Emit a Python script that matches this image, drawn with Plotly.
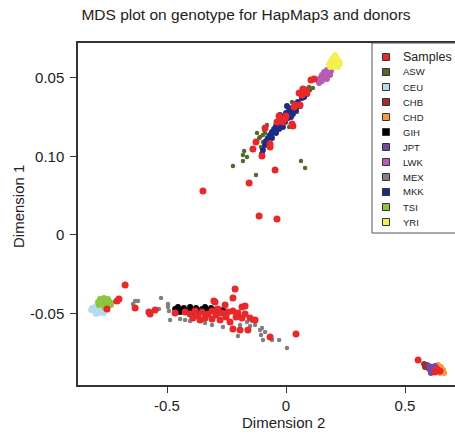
import plotly.graph_objects as go

# ---- text ----
title_text = "MDS plot on genotype for HapMap3 and donors"
x_label = "Dimension 2"
y_label = "Dimension 1"

x_tick_vals = [-0.5, 0, 0.5]
x_tick_text = ["-0.5", "0", "0.5"]
y_tick_vals = [-0.05, 0, 0.05, 0.10]
y_tick_text = ["-0.05", "0", "0.10", "0.05"]

# ---- reference populations (Dimension 2, Dimension 1) ----
asw_x = [0.139, 0.097, 0.101, 0.025, 0.017, 0.004, 0.013, -0.080, -0.092, -0.097, -0.113, -0.122, -0.105,
         -0.176, -0.181, -0.164, -0.181, -0.223, -0.126, 0.063, 0.080, -0.097, -0.109, -0.088, 0.046, 0.113]
asw_y = [0.0967, 0.0941, 0.0922, 0.0846, 0.0801, 0.0814, 0.0687, 0.0700, 0.0668, 0.0636, 0.0617, 0.0649, 0.0560,
         0.0534, 0.0509, 0.0496, 0.0471, 0.0439, 0.0382, 0.0471, 0.0426, 0.0591, 0.0623, 0.0649, 0.0782, 0.0935]

ceu_x = [-0.815, -0.798, -0.782, -0.807, -0.790, -0.773, -0.756, -0.798, -0.782, -0.765, -0.819]
ceu_y = [-0.0464, -0.0452, -0.0458, -0.0483, -0.0477, -0.0477, -0.0477, -0.0502, -0.0496, -0.0496, -0.0477]

chb_x = [0.580, 0.592, 0.584, 0.597]
chb_y = [-0.0820, -0.0827, -0.0840, -0.0846]

chd_x = [0.651, 0.660, 0.647, 0.664, 0.639]
chd_y = [-0.0840, -0.0859, -0.0878, -0.0878, -0.0827]

gih_x = [-0.466, -0.454, -0.441, -0.429, -0.416, -0.403, -0.391, -0.378, -0.366, -0.353, -0.340,
         -0.328, -0.315, -0.303, -0.290, -0.277, -0.265, -0.252, -0.445, -0.395, -0.345]
gih_y = [-0.0471, -0.0458, -0.0477, -0.0464, -0.0483, -0.0458, -0.0477, -0.0464, -0.0483, -0.0471, -0.0458,
         -0.0477, -0.0464, -0.0483, -0.0471, -0.0490, -0.0477, -0.0490, -0.0490, -0.0496, -0.0490]

jpt_x = [0.601, 0.613, 0.626, 0.605, 0.618, 0.630, 0.609, 0.622]
jpt_y = [-0.0833, -0.0840, -0.0833, -0.0859, -0.0859, -0.0852, -0.0878, -0.0871]

lwk_x = [0.185, 0.172, 0.189, 0.164, 0.181, 0.151, 0.168, 0.185, 0.143, 0.160, 0.134, 0.151, 0.172, 0.139, 0.160]
lwk_y = [0.1062, 0.1049, 0.1043, 0.1030, 0.1030, 0.1018, 0.1011, 0.1018, 0.0998, 0.0998, 0.0986, 0.0979,
         0.0992, 0.0967, 0.1037]

mex_x = [-0.718, -0.634, -0.622, -0.643, -0.525, -0.534, -0.546, -0.496, -0.492, -0.496, -0.487, -0.445,
         -0.424, -0.403, -0.311, -0.265, -0.193, -0.164, -0.143, -0.130, -0.101, -0.105, -0.097, -0.059,
         -0.029, 0.004, -0.202, -0.340, -0.109, -0.088, -0.151]
mex_y = [-0.0426, -0.0420, -0.0420, -0.0439, -0.0401, -0.0471, -0.0477, -0.0458, -0.0483, -0.0439, -0.0541,
         -0.0534, -0.0541, -0.0547, -0.0572, -0.0585, -0.0572, -0.0553, -0.0547, -0.0572, -0.0591, -0.0636,
         -0.0668, -0.0668, -0.0668, -0.0719, -0.0642, -0.0560, -0.0604, -0.0617, -0.0579]

mkk_x = [0.067, 0.050, 0.059, 0.038, 0.025, 0.042, 0.013, 0.029, 0.000, -0.008, 0.008, -0.021, -0.004,
         -0.034, -0.017, -0.042, -0.029, -0.050, -0.059, -0.042, -0.067, -0.076, -0.059, -0.084, -0.088,
         -0.097, -0.101, 0.017, -0.025, 0.004, 0.076, 0.088,
         -0.013, -0.046, -0.038, -0.063, 0.021, -0.004, 0.034]
mkk_y = [0.0871, 0.0846, 0.0820, 0.0833, 0.0808, 0.0795, 0.0789, 0.0770, 0.0776, 0.0750, 0.0744, 0.0738,
         0.0719, 0.0719, 0.0700, 0.0693, 0.0674, 0.0674, 0.0655, 0.0649, 0.0636, 0.0617, 0.0617, 0.0598,
         0.0572, 0.0541, 0.0515, 0.0763, 0.0763, 0.0820, 0.0878, 0.0897,
         0.0687, 0.0661, 0.0712, 0.0630, 0.0750, 0.0757, 0.0801]

tsi_x = [-0.782, -0.765, -0.748, -0.790, -0.773, -0.756, -0.739, -0.786, -0.769, -0.752, -0.735, -0.761]
tsi_y = [-0.0407, -0.0401, -0.0407, -0.0426, -0.0426, -0.0426, -0.0426, -0.0445, -0.0445, -0.0445,
         -0.0445, -0.0464]

yri_x = [0.206, 0.197, 0.214, 0.189, 0.206, 0.223, 0.181, 0.197, 0.214, 0.227, 0.185, 0.202, 0.218, 0.193, 0.210]
yri_y = [0.1145, 0.1126, 0.1126, 0.1107, 0.1107, 0.1107, 0.1088, 0.1088, 0.1088, 0.1088, 0.1068, 0.1068,
         0.1068, 0.1100, 0.1081]

# ---- donor samples ----
samples_x = [0.118, 0.105, 0.055, 0.067, 0.084, 0.088, 0.071, 0.038, 0.059, 0.034, -0.029, 0.000, -0.017,
             -0.038, -0.013, -0.004, 0.029, 0.025, -0.088, -0.126, -0.139, -0.067, -0.067, -0.101, -0.046,
             -0.155, -0.349, -0.113, -0.038,
             -0.676, -0.702, -0.710, -0.752, -0.634, -0.576, -0.571, -0.550, -0.466, -0.303, -0.214, -0.223,
             -0.256, -0.185, -0.223, -0.223, -0.193, -0.160, -0.067, 0.042, -0.185, -0.210,
             -0.424, -0.403, -0.382, -0.370, -0.353, -0.340, -0.328, -0.311, -0.311, -0.294, -0.277, -0.269,
             -0.252, -0.235, -0.244, -0.286, -0.361, -0.391, -0.202, -0.172, -0.151, -0.130, -0.298, -0.172,
             0.555, 0.634, 0.647, 0.626]
samples_y = [0.0992, 0.0986, 0.0903, 0.0890, 0.0922, 0.0903, 0.0929, 0.0827, 0.0827, 0.0814, 0.0757, 0.0757,
             0.0731, 0.0719, 0.0719, 0.0738, 0.0693, 0.0706, 0.0681, 0.0591, 0.0547, 0.0579, 0.0560, 0.0502,
             0.0413, 0.0331, 0.0280, 0.0121, 0.0102,
             -0.0318, -0.0407, -0.0420, -0.0471, -0.0464, -0.0490, -0.0502, -0.0477, -0.0496, -0.0420, -0.0343,
             -0.0401, -0.0445, -0.0458, -0.0483, -0.0598, -0.0604, -0.0604, -0.0649, -0.0630, -0.0528, -0.0522,
             -0.0490, -0.0502, -0.0483, -0.0515, -0.0490, -0.0528, -0.0502, -0.0483, -0.0534, -0.0509, -0.0541,
             -0.0496, -0.0522, -0.0553, -0.0490, -0.0471, -0.0541, -0.0528, -0.0496, -0.0502, -0.0528, -0.0541,
             -0.0426, -0.0452,
             -0.0795, -0.0852, -0.0865, -0.0871]

legend_names = ["Samples", "ASW", "CEU", "CHB", "CHD", "GIH", "JPT", "LWK", "MEX", "MKK", "TSI", "YRI"]
legend_colors = ["#e8282b", "#55692c", "#b4dcee", "#9b3030", "#f59a3c", "#000000", "#7548a6",
                 "#b75bb6", "#808080", "#1e2a84", "#8cc63f", "#f4f050"]

population_series = [
    ("ASW", asw_x, asw_y), ("CEU", ceu_x, ceu_y), ("CHB", chb_x, chb_y), ("CHD", chd_x, chd_y),
    ("GIH", gih_x, gih_y), ("JPT", jpt_x, jpt_y), ("LWK", lwk_x, lwk_y), ("MEX", mex_x, mex_y),
    ("MKK", mkk_x, mkk_y), ("TSI", tsi_x, tsi_y), ("YRI", yri_x, yri_y),
]
color_of = dict(zip(legend_names, legend_colors))
blob_groups = {"CEU", "TSI", "YRI", "LWK", "GIH", "MKK", "JPT", "CHB", "CHD"}

FONT = "Liberation Sans, Arial, sans-serif"
W, H = 455, 435
ML, MR, MT, MB = 78, 0, 43, 50
plot_w, plot_h = W - ML - MR, H - MT - MB

fig = go.Figure()
for name, xs, ys in population_series:
    fig.add_trace(go.Scatter(
        x=xs, y=ys, mode="markers", name=name, showlegend=False,
        marker=dict(size=6 if name in blob_groups else 4.5, color=color_of[name], line=dict(width=0)),
    ))
fig.add_trace(go.Scatter(
    x=samples_x, y=samples_y, mode="markers", name="Samples", showlegend=False,
    marker=dict(size=7, color=color_of["Samples"], line=dict(width=0)),
))


def px_to_paper_x(px):
    return (px - ML) / plot_w


def px_to_paper_y(py):
    return (H - MB - py) / plot_h


# legend frame
shapes = [dict(type="rect", xref="paper", yref="paper",
               x0=px_to_paper_x(372), x1=px_to_paper_x(462),
               y0=px_to_paper_y(233), y1=1.0,
               line=dict(color="#555555", width=1), fillcolor="white", layer="above")]
annotations = []
for i, (name, col) in enumerate(zip(legend_names, legend_colors)):
    row_y = px_to_paper_y(57 + 15 * i)
    shapes.append(dict(type="rect", xref="paper", yref="paper",
                       xsizemode="pixel", ysizemode="pixel",
                       xanchor=px_to_paper_x(386), yanchor=row_y,
                       x0=-3.5, x1=3.5, y0=-3.5, y1=3.5,
                       fillcolor=col, line=dict(color="#333333", width=1), layer="above"))
    annotations.append(dict(text=name, xref="paper", yref="paper",
                            x=px_to_paper_x(401), y=row_y, xanchor="left", yanchor="middle",
                            showarrow=False,
                            font=dict(family=FONT, size=12.5 if i == 0 else 9.5, color="#222222")))

# axis titles
annotations.append(dict(text=x_label, xref="paper", yref="paper", x=px_to_paper_x(283),
                        y=px_to_paper_y(422), xanchor="center", yanchor="middle", showarrow=False,
                        font=dict(family=FONT, size=15, color="#222222")))
annotations.append(dict(text=y_label, xref="paper", yref="paper", x=px_to_paper_x(18),
                        y=px_to_paper_y(207), xanchor="center", yanchor="middle", showarrow=False,
                        textangle=-90, font=dict(family=FONT, size=15, color="#222222")))

fig.update_layout(
    width=W, height=H,
    margin=dict(l=ML, r=MR, t=MT, b=MB),
    paper_bgcolor="white", plot_bgcolor="white",
    title=dict(text=title_text, x=246 / W, xref="container", xanchor="center",
               y=1 - 15 / H, yref="container", yanchor="middle",
               font=dict(family=FONT, size=15.5, color="#222222")),
    shapes=shapes, annotations=annotations,
    showlegend=False,
)
fig.update_xaxes(
    range=[-0.874, 0.710], tickvals=x_tick_vals, ticktext=x_tick_text,
    showgrid=False, zeroline=False, showline=True, mirror=True, linecolor="#333333", linewidth=1.5,
    ticks="outside", ticklen=6, tickcolor="#333333", tickwidth=1,
    tickfont=dict(family=FONT, size=15, color="#222222"),
)
fig.update_yaxes(
    range=[-0.0954, 0.1221], tickvals=y_tick_vals, ticktext=y_tick_text,
    showgrid=False, zeroline=False, showline=True, mirror=False, linecolor="#333333", linewidth=1.5,
    ticks="outside", ticklen=6, tickcolor="#333333", tickwidth=1, ticklabelstandoff=3,
    tickfont=dict(family=FONT, size=15, color="#222222"),
)

fig.write_html("out.html")
